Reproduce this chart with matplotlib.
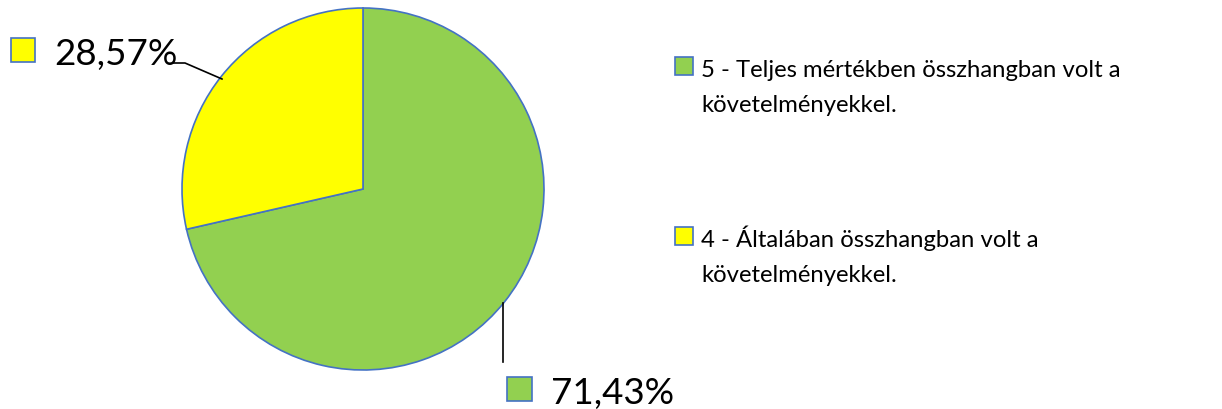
import matplotlib
matplotlib.use("Agg")
import matplotlib.pyplot as plt
from matplotlib.patches import Rectangle

categories = ["5 - Teljes mértékben összhangban volt a\nkövetelményekkel.",
              "4 - Általában összhangban volt a\nkövetelményekkel."]
values = [71.43, 28.57]
value_labels = ["71,43%", "28,57%"]
colors = ["#92D050", "#FFFF00"]
edge = "#4472C4"

plt.rcParams['font.family'] = ['Lato', 'DejaVu Sans']

W, H = 1222, 410
fig = plt.figure(figsize=(W / 100, H / 100), dpi=100)
ax = fig.add_axes([0, 0, 1, 1])

def Y(y):
    return H - y

cx, cy, r = 363, 190, 181
ax.pie(values, colors=colors, startangle=90, counterclock=False,
       center=(cx, Y(cy)), radius=r, frame=True,
       wedgeprops=dict(edgecolor=edge, linewidth=1.2))
ax.set_xlim(0, W)
ax.set_ylim(0, H)
ax.axis('off')
ax.set_aspect('equal')

# data labels
ax.plot([503, 503], [Y(304), Y(363)], color='black', lw=1.2)
ax.add_patch(Rectangle((507, Y(402)), 25, 24, facecolor=colors[0], edgecolor=edge, lw=1.2))
ax.text(551, Y(404), value_labels[0], fontsize=26.5, va='baseline', ha='left')

ax.plot([173, 185, 222], [Y(64), Y(64), Y(80)], color='black', lw=1.2)
ax.add_patch(Rectangle((11, Y(63)), 24, 24, facecolor=colors[1], edgecolor=edge, lw=1.2))
ax.text(54, Y(65), value_labels[1], fontsize=26.5, va='baseline', ha='left')

# legend
leg_y = [58, 228]
for col, lab, y0 in zip(colors, categories, leg_y):
    ax.add_patch(Rectangle((675, Y(y0 + 18)), 18, 18, facecolor=col, edgecolor=edge, lw=1.2))
    for i, line in enumerate(lab.split("\n")):
        ax.text(701, Y(y0 + 19 + 35 * i), line, fontsize=17.2, va='baseline', ha='left')

fig.savefig("out.png", dpi=100)
